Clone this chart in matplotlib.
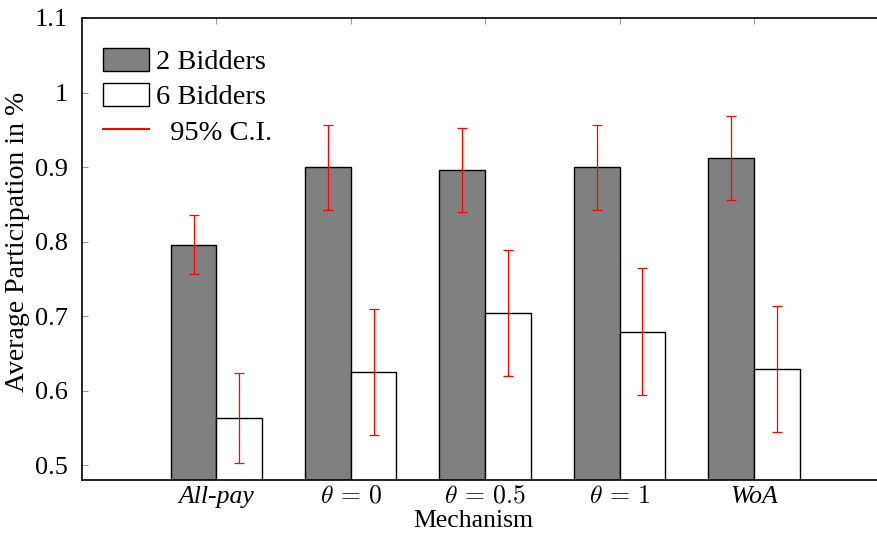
import numpy as np
import matplotlib
matplotlib.use("Agg")
import matplotlib.pyplot as plt
from matplotlib.patches import Patch
from matplotlib.lines import Line2D

plt.rcParams['font.family'] = ['Liberation Serif', 'DejaVu Serif']
plt.rcParams['mathtext.fontset'] = 'cm'

# data
mechanisms = ['All-pay', '$\\theta\\,=\\,0$', '$\\theta\\,=\\,0.5$', '$\\theta\\,=\\,1$', 'WoA']
two_bidders = [0.796, 0.900, 0.896, 0.900, 0.912]
two_err = [0.040, 0.057, 0.057, 0.057, 0.056]
six_bidders = [0.563, 0.625, 0.704, 0.679, 0.629]
six_err = [0.060, 0.085, 0.085, 0.085, 0.085]
yticks = [0.5, 0.6, 0.7, 0.8, 0.9, 1.0, 1.1]
ytick_labels = ['0.5', '0.6', '0.7', '0.8', '0.9', '1', '1.1']

fig = plt.figure(figsize=(8.77, 5.33), dpi=100)
ax = fig.add_axes([82/877, 53/533, 1 - 82/877, 462/533])

x = np.arange(1, len(mechanisms) + 1)
w = 0.34
ax.bar(x - w/2, two_bidders, w, color='#808080', edgecolor='black', linewidth=1.0, zorder=2)
ax.bar(x + w/2, six_bidders, w, color='white', edgecolor='black', linewidth=1.0, zorder=2)
ax.errorbar(x - w/2, two_bidders, yerr=two_err, fmt='none', ecolor='red',
            elinewidth=0.9, capsize=3.5, capthick=0.9, zorder=3)
ax.errorbar(x + w/2, six_bidders, yerr=six_err, fmt='none', ecolor='red',
            elinewidth=0.9, capsize=3.5, capthick=0.9, zorder=3)

ax.set_xlim(0, 5.916)
ax.set_ylim(0.48, 1.1)
ax.set_xticks(x)
ax.set_xticklabels(mechanisms, fontsize=18.5)
for i in (0, 4):
    ax.get_xticklabels()[i].set_fontstyle('italic')
ax.set_yticks(yticks)
ax.set_yticklabels(ytick_labels, fontsize=19)
ax.tick_params(axis='both', direction='in', length=4, width=0.8, color='0.6',
               top=True, bottom=True, left=True, right=False)
ax.tick_params(axis='y', pad=10)
ax.tick_params(axis='x', pad=4)

for s in ['top', 'bottom', 'left']:
    ax.spines[s].set_linewidth(1.2)
ax.spines['right'].set_visible(False)

ax.set_xlabel('Mechanism', fontsize=18.5)
ax.xaxis.set_label_coords((473 - 82) / 795, -0.064)
ax.set_ylabel('Average Participation in %', fontsize=20)
ax.yaxis.set_label_coords(-0.065, 0.515)

handles = [Patch(facecolor='#808080', edgecolor='black', linewidth=1.0),
           Patch(facecolor='white', edgecolor='black', linewidth=1.0),
           Line2D([0], [0], color='red', linewidth=1.5)]
ax.legend(handles, ['2 Bidders', '6 Bidders', '  95% C.I.'], loc='upper left',
          bbox_to_anchor=(0.027, (480 - 48) / 462), frameon=False, fontsize=20.5,
          borderpad=0, borderaxespad=0, handlelength=1.6, handleheight=0.85,
          handletextpad=0.25, labelspacing=0.28)

fig.savefig('out.png', dpi=100)
